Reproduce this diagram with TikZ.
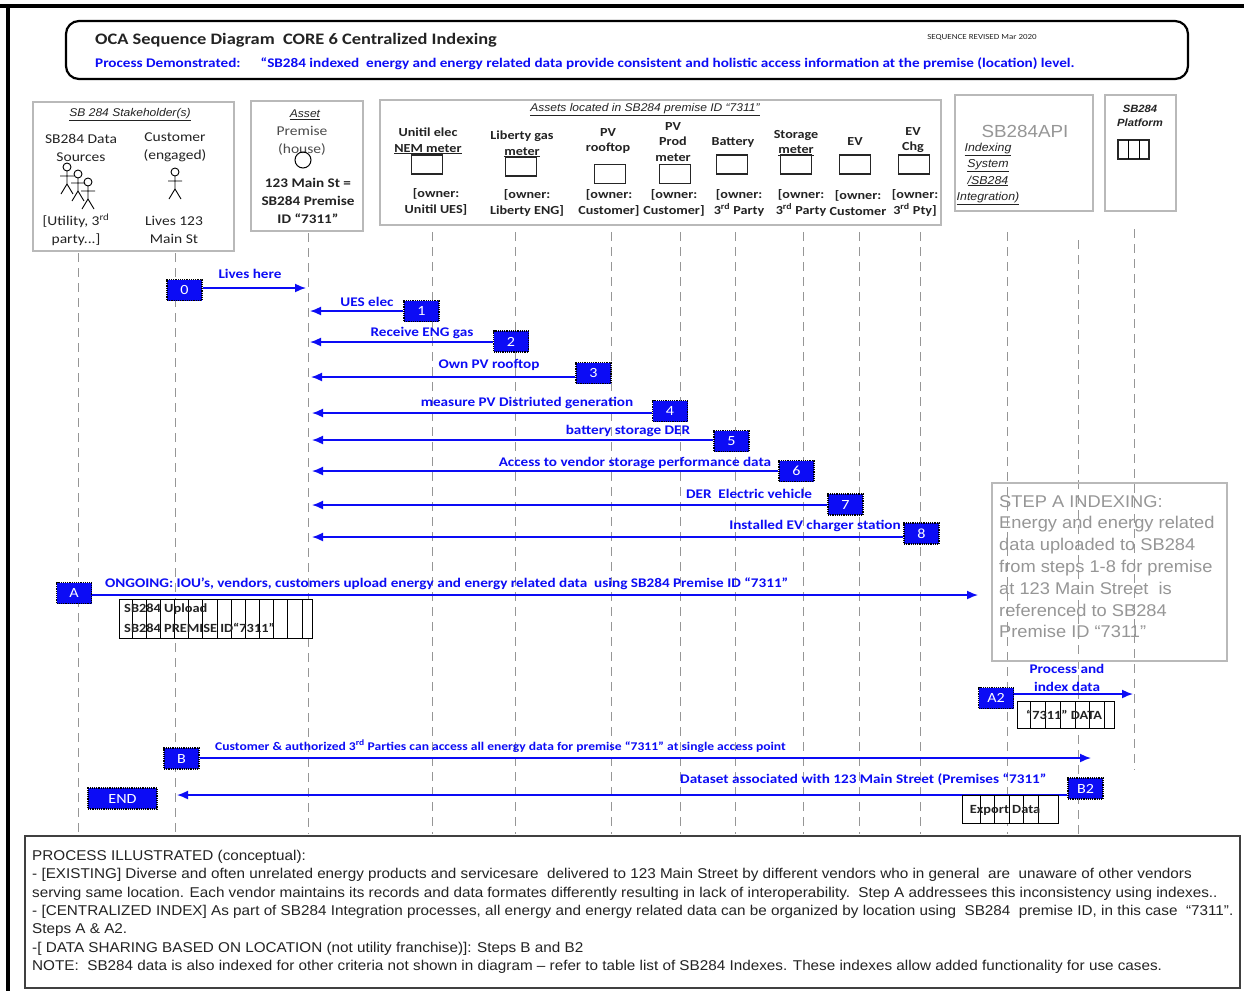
\documentclass[tikz,border=0pt]{standalone}
\usepackage{fontspec}
\setmainfont{Carlito}[FakeStretch=1.15]
\newfontfamily\arialf{Liberation Sans}[FakeStretch=1.075]
\usetikzlibrary{arrows.meta}
\definecolor{mblue}{RGB}{12,12,245}
\definecolor{lgray}{RGB}{150,150,150}
\definecolor{frgray}{RGB}{185,185,185}
\definecolor{stepgray}{RGB}{150,150,150}
\definecolor{txtc}{RGB}{35,35,35}
\newcommand\stickman[2]{%
  \draw[line width=0.9] (#1,#2) circle[radius=4];
  \draw[line width=0.9] (#1,#2+4) -- (#1,#2+17) (#1-7,#2+9) -- (#1+7,#2+9) (#1-6,#2+27) -- (#1,#2+17) -- (#1+6,#2+27);}
\begin{document}
\begin{tikzpicture}[x=1pt,y=-1pt,
  lifeline/.style={draw=lgray, line width=0.9, dash pattern=on 9pt off 6pt},
  gframe/.style={draw=frgray, line width=1.4},
  numbox/.style={draw=black, densely dotted, line width=1.2, fill=mblue, text=white,
     minimum width=35, minimum height=21, inner sep=0, font=\fontsize{14}{14}\selectfont},
  msg/.style={draw=mblue, line width=1.6, -{Latex[length=11pt,width=9pt]}},
  lbl/.style={text=mblue, font=\bfseries\fontsize{13.2}{14}\selectfont, inner sep=0},
  txt/.style={font=\fontsize{13.5}{18}\selectfont, align=center, inner sep=0, text=txtc},
  btxt/.style={font=\bfseries\fontsize{12.3}{15.5}\selectfont, align=center, inner sep=0, text=txtc},
  ititle/.style={font=\arialf\itshape\fontsize{11.2}{13}\selectfont, inner sep=0, text=txtc},
  assetbox/.style={draw=black!85, line width=1.3, minimum width=31, minimum height=19, inner sep=0},
  gridbox/.style={draw=black, line width=1, fill=white, inner sep=0},
  gtxt/.style={font=\bfseries\fontsize{12.5}{15}\selectfont, inner sep=0, text=txtc}
]
\useasboundingbox (0,0) rectangle (1244,991);
\fill[white] (0,0) rectangle (1244,991);
% outer frame lines
\draw[line width=4] (0,6) -- (1244,6);
\draw[line width=4] (8,4) -- (8,991);

% header
\draw[line width=2.2, rounded corners=13] (66,21) rectangle (1188,79);
\node[anchor=west, inner sep=0, font=\bfseries\fontsize{16}{18}\selectfont, text=txtc] (title) at (95,40)
  {OCA Sequence Diagram\ \ CORE 6 Centralized Indexing};
\node[inner sep=0, font=\fontsize{7.8}{8}\selectfont, text=txtc] (rev) at (982,37) {SEQUENCE REVISED Mar 2020};
\node[anchor=west, inner sep=0, text=mblue, font=\bfseries\fontsize{13.2}{14}\selectfont] (procdemo) at (95,64)
  {Process Demonstrated:\hspace{20pt}“SB284 indexed\ \ energy and energy related data provide consistent and holistic access information at the premise (location) level.};

% lifelines
\foreach \lx in {78,175} \draw[lifeline] (\lx,253) -- (\lx,834);
\draw[lifeline] (308,233) -- (308,834);
\foreach \lx in {432,515,611,680,735,803,859,920} \draw[lifeline] (\lx,232) -- (\lx,834);
\draw[lifeline] (1007,232) -- (1007,834);
\draw[lifeline] (1078,240) -- (1078,834);
\draw[lifeline] (1134,229) -- (1134,770);

% stakeholder box
\draw[gframe] (33,102) rectangle (234,251);
\node[ititle] (shtitle) at (130,115) {\underline{SB 284 Stakeholder(s)}};
\node[txt] (dsrc) at (81,148) {SB284 Data\\Sources};
\node[txt] (cust) at (175,147) {Customer\\(engaged)};
\stickman{67}{167}
\stickman{78}{174}
\stickman{88}{182}
\stickman{175}{172}
\node[txt] (util) at (76,230) {[Utility, 3\textsuperscript{rd}\\party...]};
\node[txt] (lives) at (174,230) {Lives 123\\Main St};

% asset box
\draw[gframe] (251,101) rectangle (363,231);
\node[ititle] (assettitle) at (305,115) {\underline{Asset}};
\node[txt, text=black!70] (premise) at (302,141) {Premise\\(house)};
\draw[line width=1] (303,160) circle[radius=8];
\node[txt, font=\bfseries\fontsize{13.2}{18}\selectfont] (addr) at (308,201) {123 Main St =\\SB284 Premise\\ID “7311”};

% assets located box
\draw[gframe] (380,100) rectangle (941,225);
\node[ititle] (assetstitle) at (645,110) {\underline{Assets located in SB284 premise ID “7311”}};
\node[btxt] (c1t) at (428,141) {Unitil elec\\\underline{NEM meter}};
\node[btxt] (c2t) at (522,144) {Liberty gas\\\underline{meter}};
\node[btxt] (c3t) at (608,141) {PV\\rooftop};
\node[btxt] (c4t) at (673,142) {PV\\Prod\\meter};
\node[btxt] (c5t) at (733,142) {Battery};
\node[btxt] (c6t) at (796,143) {Storage\\\underline{meter}};
\node[btxt] (c7t) at (855,142) {EV};
\node[btxt] (c8t) at (913,141) {EV\\\underline{Chg}};
\node[assetbox] (c1b) at (427,164.5) {};
\node[assetbox] (c2b) at (521,166.5) {};
\node[assetbox] (c3b) at (610,174) {};
\node[assetbox] (c4b) at (675,174) {};
\node[assetbox] (c5b) at (732,164.5) {};
\node[assetbox] (c6b) at (796,164.5) {};
\node[assetbox] (c7b) at (855,164.5) {};
\node[assetbox] (c8b) at (914,164.5) {};
\node[btxt] (o1) at (436,202) {[owner:\\Unitil UES]};
\node[btxt] (o2) at (527,203) {[owner:\\Liberty ENG]};
\node[btxt] (o3) at (609,203) {[owner:\\Customer]};
\node[btxt] (o4) at (674,203) {[owner:\\Customer]};
\node[btxt] (o5) at (739,203) {[owner:\\3\textsuperscript{rd} Party};
\node[btxt] (o6) at (801,203) {[owner:\\3\textsuperscript{rd} Party};
\node[btxt] (o7) at (858,203) {[owner:\\Customer};
\node[btxt] (o8) at (915,203) {[owner:\\3\textsuperscript{rd} Pty]};

% API box
\draw[gframe] (955,95) rectangle (1093,211);
\node[inner sep=0, font=\arialf\fontsize{17.5}{20}\selectfont, text=stepgray] (api) at (1025,131) {SB284API};
\node[inner sep=0, align=center, font=\arialf\itshape\fontsize{11.5}{16.3}\selectfont, text=txtc] (idx) at (988,174)
  {\underline{Indexing}\\\underline{System}\\\underline{/SB284}\\\underline{Integration)}};

% platform box
\draw[gframe] (1105,95) rectangle (1176,211);
\node[inner sep=0, align=center, font=\arialf\bfseries\itshape\fontsize{10.5}{14}\selectfont, text=txtc] (plat) at (1140,116) {SB284\\Platform};
\node[gridbox, minimum width=31, minimum height=19, draw=black!85, line width=1.3] (platbox) at (1133.5,149.5) {};
\draw[line width=1] (1128,140) -- (1128,159) (1139,140) -- (1139,159);

% STEP A box
\draw[gframe] (992,483) rectangle (1227,661);
\node[anchor=north west, inner sep=0, align=left, font=\arialf\fontsize{17}{21.8}\selectfont, text=stepgray] (stepa) at (999,495)
  {STEP A INDEXING:\\Energy and energy related\\data uploaded to SB284\\from steps 1-8 for premise\\at 123 Main Street\ \ is\\referenced to SB284\\Premise ID “7311”};

% numbered boxes
\node[numbox] (n0) at (184.5,290) {0};
\node[numbox] (n1) at (421.5,311) {1};
\node[numbox] (n2) at (511,341.5) {2};
\node[numbox] (n3) at (593.5,373) {3};
\node[numbox] (n4) at (670,411) {4};
\node[numbox] (n5) at (731.5,441) {5};
\node[numbox] (n6) at (796.5,471) {6};
\node[numbox] (n7) at (845.5,504.5) {7};
\node[numbox] (n8) at (921.5,533.5) {8};
\node[numbox] (nA) at (74,593) {A};
\node[numbox] (nA2) at (996,698) {A2};
\node[numbox] (nB) at (181.5,758.5) {B};
\node[numbox] (nB2) at (1085.5,788.5) {B2};
\node[numbox, minimum width=69] (nEND) at (122.5,798.5) {END};

% targets
\coordinate (t0) at (306,288);
\coordinate (t1) at (310,311);
\coordinate (t2) at (310,342);
\coordinate (t3) at (311,377);
\coordinate (t4) at (312,413);
\coordinate (t5) at (312,440);
\coordinate (t6) at (312,471);
\coordinate (t7) at (312,505);
\coordinate (t8) at (312,537);
\coordinate (tA) at (978,595);
\coordinate (tA2) at (1133,694);
\coordinate (tB) at (1091,758);
\coordinate (tB2) at (177,795);

% messages
\draw[msg] (n0.east |- t0) -- (t0);
\draw[msg] (n1.west |- t1) -- (t1);
\draw[msg] (n2.west |- t2) -- (t2);
\draw[msg] (n3.west |- t3) -- (t3);
\draw[msg] (n4.west |- t4) -- (t4);
\draw[msg] (n5.west |- t5) -- (t5);
\draw[msg] (n6.west |- t6) -- (t6);
\draw[msg] (n7.west |- t7) -- (t7);
\draw[msg] (n8.west |- t8) -- (t8);
\draw[msg] (nA.east |- tA) -- (tA);
\draw[msg] (nA2.east |- tA2) -- (tA2);
\draw[msg] (nB.east |- tB) -- (tB);
\draw[msg] (nB2.west |- tB2) -- (tB2);

% labels
\node[lbl] (l0) at (250,274) {Lives here};
\node[lbl] (l1) at (367,302) {UES elec};
\node[lbl] (l2) at (422,333) {Receive ENG gas};
\node[lbl] (l3) at (489,365) {Own PV rooftop};
\node[lbl] (l4) at (527,403) {measure PV Distriuted generation};
\node[lbl] (l5) at (628,431) {battery storage DER};
\node[lbl] (l6) at (635,463) {Access to vendor storage performance data};
\node[lbl] (l7) at (749,494) {DER\ \ Electric vehicle};
\node[lbl] (l8) at (815,526) {Installed EV charger station};
\node[lbl, anchor=west] (lA) at (105,584) {ONGOING: IOU’s, vendors, customers upload energy and energy related data\ \ using SB284 Premise ID “7311”};
\node[lbl, align=center, font=\bfseries\fontsize{13.2}{18}\selectfont] (lA2) at (1067,678) {Process and\\index data};
\node[lbl, anchor=west, font=\bfseries\fontsize{11.8}{13}\selectfont] (lB) at (215,746) {Customer \& authorized 3\textsuperscript{rd} Parties can access all energy data for premise “7311” at single access point};
\node[lbl, anchor=west] (lB2) at (680,780) {Dataset associated with 123 Main Street (Premises “7311”};

% grid boxes
\node[gridbox, minimum width=193, minimum height=39] (upload) at (215.5,618.5) {};
\foreach \i in {0,...,12} \draw[line width=0.8] (132+\i*14.17,599) -- ++(0,39);
\node[gtxt, anchor=west] (up1) at (124,609) {SB284 Upload};
\node[gtxt, anchor=west] (up2) at (124,628) {SB284 PREMISE ID“7311”};

\node[gridbox, minimum width=97, minimum height=27] (data7311) at (1065.5,714.5) {};
\foreach \i in {0,...,5} \draw[line width=0.8] (1030.5+\i*14.8,701) -- ++(0,27);
\node[gtxt] (d7311) at (1064,715) {“7311” DATA};

\node[gridbox, minimum width=96, minimum height=28] (export) at (1010,809) {};
\foreach \i in {0,...,4} \draw[line width=0.8] (980+\i*14.5,795) -- ++(0,28);
\node[gtxt] (exp) at (1005,810) {Export Data};

% bottom text box
\draw[draw=black!75, line width=1.6] (25,836) rectangle (1240,988);
\node[anchor=north west, inner sep=0, align=left, font=\arialf\fontsize{14.2}{18.3}\selectfont, text=txtc] (notes) at (32,850)
  {PROCESS ILLUSTRATED (conceptual):\\
   - [EXISTING] Diverse and often unrelated energy products and servicesare\ \ delivered to 123 Main Street by different vendors who in general\ \ are\ \ unaware of other vendors\\
   serving same location. Each vendor maintains its records and data formates differently resulting in lack of interoperability.\ \ Step A addressees this inconsistency using indexes..\\
   - [CENTRALIZED INDEX] As part of SB284 Integration processes, all energy and energy related data can be organized by location using\ \ SB284\ \ premise ID, in this case\ \ “7311”.\\
   Steps A \& A2.\\
   -[ DATA SHARING BASED ON LOCATION (not utility franchise)]: Steps B and B2\\
   NOTE:\ \ SB284 data is also indexed for other criteria not shown in diagram – refer to table list of SB284 Indexes. These indexes allow added functionality for use cases.};
\end{tikzpicture}
\end{document}
